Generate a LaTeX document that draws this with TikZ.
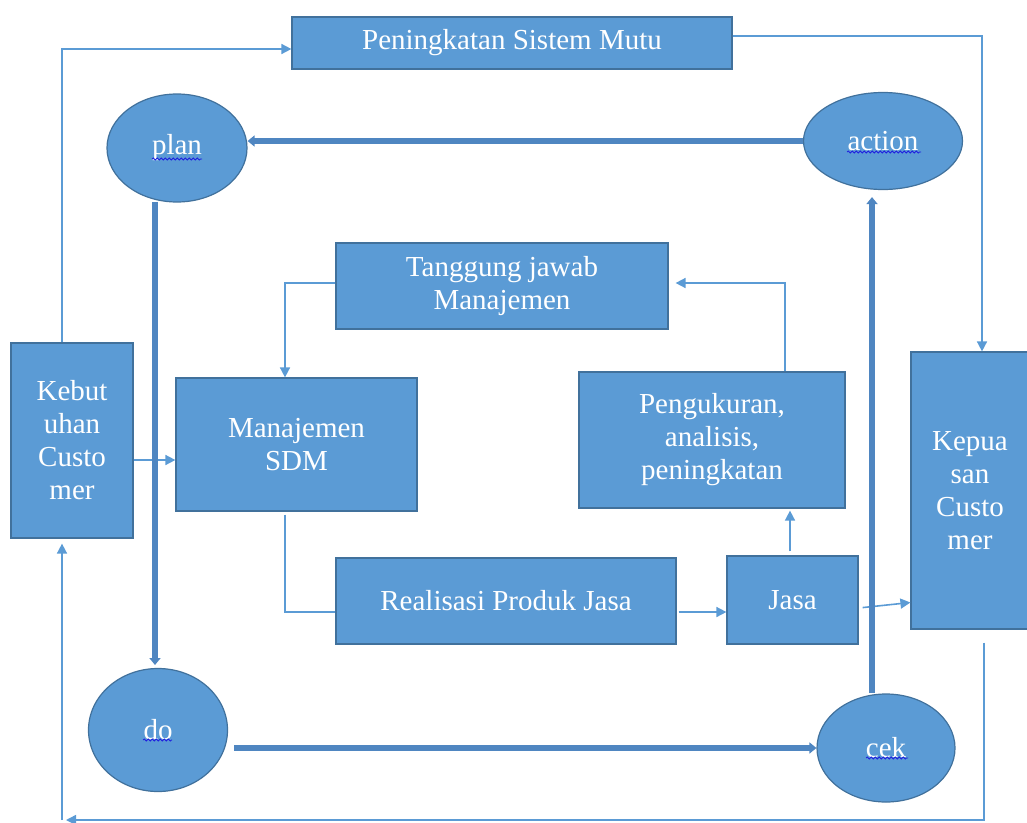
\documentclass[tikz,border=0pt]{standalone}
\usepackage{fontspec}
\setmainfont{Liberation Serif}
\newfontfamily\tnrfont{Liberation Serif}
\usetikzlibrary{arrows.meta,decorations.pathmorphing,calc,shapes.geometric}
\definecolor{boxfill}{HTML}{5B9BD5}
\definecolor{boxline}{HTML}{41719C}
\definecolor{thinline}{HTML}{5B9BD5}
\definecolor{thickline}{HTML}{4F86C1}
\definecolor{wavyblue}{HTML}{1F1FE0}
\begin{document}
\begin{tikzpicture}[x=1pt,y=-1pt,
  blk/.style={draw=boxline,line width=1.2pt,fill=boxfill,text=white,align=center,
    font=\tnrfont\fontsize{29}{33}\selectfont,inner sep=0pt},
  rbox/.style n args={2}{blk,rectangle,minimum width=#1,minimum height=#2},
  oval/.style n args={2}{blk,ellipse,minimum width=#1,minimum height=#2},
  tline/.style={draw=thinline,line width=1.6pt},
  tarrow/.style={tline,-{Triangle[length=10pt,width=10pt]}},
  karrow/.style={draw=thickline,line width=6pt,-{Triangle[length=7pt,width=11pt]}},
  wavyline/.style={draw=wavyblue,line width=0.8pt,decorate,decoration={snake,amplitude=1pt,segment length=4pt}}
]
\useasboundingbox (0,0) rectangle (1027,822);

% nodes
\node[rbox={440pt}{52pt}] (psm) at (512,43) {Peningkatan Sistem Mutu};
\node[oval={140pt}{108pt}] (plan) at (177,148) {plan};
\node[oval={159pt}{97pt}] (action) at (883,141) {action};
\node[oval={139pt}{123pt}] (do) at (158,730) {do};
\node[oval={138pt}{108pt}] (cek) at (886,748) {cek};
\node[rbox={122pt}{195pt}] (kebut) at (72,440.5) {Kebut\\uhan\\Custo\\mer};
\node[rbox={241pt}{133pt}] (sdm) at (296.5,444.5) {Manajemen\\SDM};
\node[rbox={332pt}{86pt}] (tj) at (502,286) {Tanggung jawab\\Manajemen};
\node[rbox={266pt}{136pt}] (peng) at (712,440) {Pengukuran,\\analisis,\\peningkatan};
\node[rbox={340pt}{86pt}] (real) at (506,601) {Realisasi Produk Jasa};
\node[rbox={131pt}{88pt}] (jasa) at (792.5,600) {Jasa};
\node[rbox={118pt}{277pt}] (kep) at (970,490.5) {Kepua\\san\\Custo\\mer};

% spell-check underlines
\draw[wavyline] ($(plan.center)+(-25,11)$) -- ++(50,0);
\draw[wavyline] ($(action.center)+(-36,11)$) -- ++(74,0);
\draw[wavyline] ($(do.center)+(-15,10)$) -- ++(29,0);
\draw[wavyline] ($(cek.center)+(-20,10)$) -- ++(42,0);

% bend coordinates
\coordinate (c1) at (62,49);
\coordinate (c2) at (982,36);
\coordinate (c3) at (62,460);
\coordinate (c4) at (285,283);
\coordinate (c5) at (785,283);
\coordinate (c6) at (285,612);
\coordinate (c7) at (678,612);
\coordinate (c8) at (984,820);
\coordinate (c9) at (62,820);

% thin connectors
\draw[tarrow] (kebut.north -| c1) -- (c1) -- (c1 -| psm.west);
\draw[tarrow] (psm.east |- c2) -- (c2) -- (c2 |- kep.north);
\draw[tarrow] (kebut.east |- c3) -- (sdm.west |- c3);
\draw[tarrow] (tj.west |- c4) -- (c4) -- (c4 |- sdm.north);
\draw[tarrow,shorten >=7pt] (c5 |- peng.north) -- (c5) -- (c5 -| tj.east);
\draw[tline,shorten <=3pt] (c6 |- sdm.south) -- (c6) -- (c6 -| real.west);
\draw[tarrow,shorten <=2pt] (c7 -| real.east) -- (c7 -| jasa.west);
\draw[tarrow] ([yshift=4pt]jasa.north -| 790,0) -- ([yshift=-2pt]peng.south -| 790,0);
\draw[tarrow,shorten <=4pt] ($(jasa.east)+(0,8)$) -- ($(kep.west)+(0,112)$);
\draw[tarrow,shorten <=13pt,shorten >=4pt] (c8 |- kep.south) -- (c8) -- (c9);
\draw[tarrow,shorten >=5pt] (c9) -- (c9 |- kebut.south);

% thick PDCA cycle
\draw[karrow] (action.west |- 0,141) -- (plan.east |- 0,141);
\draw[karrow] (155,202) -- (155,665);
\draw[karrow,shorten <=6pt] (do.east |- cek.west) -- (cek.west);
\draw[karrow,shorten >=7pt] (cek.north -| 872,0) -- (action.south -| 872,0);
\end{tikzpicture}
\end{document}
